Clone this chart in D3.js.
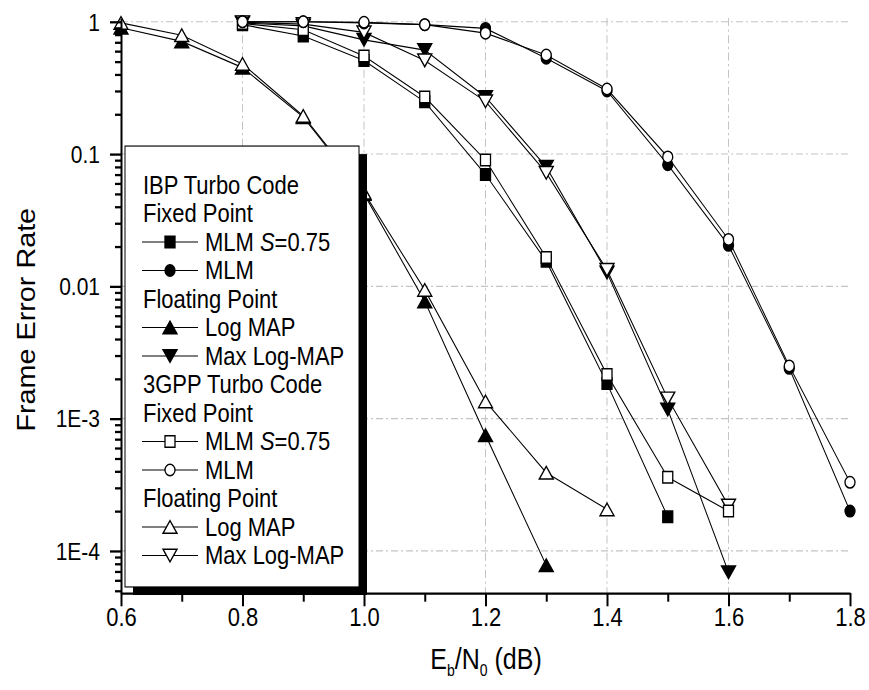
<!DOCTYPE html>
<html>
<head>
<meta charset="utf-8">
<script src="https://cdn.jsdelivr.net/npm/d3@7/dist/d3.min.js"></script>
<style>
body { margin: 0; background: #fff; }
text { font-family: "Liberation Sans", Arial, sans-serif; fill: #000; }
</style>
</head>
<body>
<div id="canvas"></div>
<script>
var width = 869;
var height = 690;
var vbHeight = 600;   // the original picture is stretched a bit vertically

// ---- data (Frame Error Rate vs Eb/N0) ----
const ebno = [0.6, 0.7, 0.8, 0.9, 1.0, 1.1, 1.2, 1.3, 1.4, 1.5, 1.6, 1.7, 1.8];

// IBP turbo code
const ibpMlmS   = [null, null, 0.95, 0.78, 0.51, 0.248, 0.070, 0.0155, 0.00184, 0.000181, null, null, null];
const ibpMlm    = [null, null, 1.0, 1.0, 0.98, 0.95, 0.89, 0.53, 0.30, 0.083, 0.0204, 0.0024, 0.0002];
const ibpLogMap = [0.90, 0.71, 0.45, 0.19, 0.050, 0.0077, 0.00075, 0.000078, null, null, null, null, null];
const ibpMaxLog = [null, null, 0.98, 0.93, 0.73, 0.61, 0.27, 0.080, 0.0127, 0.00117, 0.000069, null, null];

// 3GPP turbo code
const gppMlmS   = [null, null, 0.97, 0.87, 0.55, 0.27, 0.090, 0.0165, 0.00215, 0.00036, 0.0002, null, null];
const gppMlm    = [null, null, 1.0, 1.0, 0.99, 0.95, 0.82, 0.56, 0.31, 0.095, 0.0226, 0.0025, 0.00033];
const gppLogMap = [0.98, 0.79, 0.48, 0.194, 0.051, 0.0094, 0.00135, 0.00039, 0.000206, null, null, null, null];
const gppMaxLog = [null, null, 0.99, 0.96, 0.83, 0.51, 0.25, 0.072, 0.0133, 0.00142, 0.00022, null, null];

const xTicks = [0.6, 0.8, 1.0, 1.2, 1.4, 1.6, 1.8];
const xMinor = [0.7, 0.9, 1.1, 1.3, 1.5, 1.7];
const yTicks = [1, 0.1, 0.01, 1e-3, 1e-4];
const yTickLabels = ["1", "0.1", "0.01", "1E-3", "1E-4"];

const series = [
    { name: "MLM S=0.75", values: ibpMlmS,   shape: "square", filled: true },
    { name: "MLM",        values: ibpMlm,    shape: "circle", filled: true },
    { name: "Log MAP",    values: ibpLogMap, shape: "up",     filled: true },
    { name: "Max Log-MAP",values: ibpMaxLog, shape: "down",   filled: true },
    { name: "MLM S=0.75", values: gppMlmS,   shape: "square", filled: false },
    { name: "MLM",        values: gppMlm,    shape: "circle", filled: false },
    { name: "Log MAP",    values: gppLogMap, shape: "up",     filled: false },
    { name: "Max Log-MAP",values: gppMaxLog, shape: "down",   filled: false }
];

// order the markers are painted in (circles end up on top)
const drawOrder = [2, 6, 3, 7, 0, 4, 1, 5];

// legend rows: headers (no symbol) and series entries
const legendRows = [
    { text: "IBP Turbo Code" },
    { text: "Fixed Point" },
    { s: 0 }, { s: 1 },
    { text: "Floating Point" },
    { s: 2 }, { s: 3 },
    { text: "3GPP Turbo Code" },
    { text: "Fixed Point" },
    { s: 4 }, { s: 5 },
    { text: "Floating Point" },
    { s: 6 }, { s: 7 }
];

// ---- layout ----
var plotLeft = 121, plotRight = 850, plotTop = 15.7, plotBottom = 515.7;

var svg = d3.select("#canvas").append("svg")
    .attr("width", width)
    .attr("height", height)
    .attr("viewBox", "0 0 " + width + " " + vbHeight)
    .attr("preserveAspectRatio", "none")
    .style("background-color", "white");

const xScale = d3.scaleLinear().domain([0.6, 1.8]).range([plotLeft, plotRight]);
const yScale = d3.scaleLog().domain([4.8e-5, 1.066]).range([plotBottom, plotTop]);

// grid
var grid = svg.append("g")
    .attr("stroke", "#c4c4c4")
    .attr("stroke-width", 1)
    .attr("stroke-dasharray", "7,3,2,3");
grid.selectAll(".vg").data(xTicks.filter(d => d > 0.6 && d < 1.8)).enter().append("line")
    .attr("x1", d => xScale(d)).attr("x2", d => xScale(d))
    .attr("y1", plotTop).attr("y2", plotBottom);
grid.selectAll(".hg").data(yTicks).enter().append("line")
    .attr("x1", plotLeft).attr("x2", plotRight - 2)
    .attr("y1", d => yScale(d)).attr("y2", d => yScale(d));

// markers
function markerPath(shape) {
    if (shape === "square") return "M-5,-5H5V5H-5Z";
    if (shape === "circle") return "M5,0A5,5 0 1,1 -5,0A5,5 0 1,1 5,0Z";
    if (shape === "up") return "M0,-5.5L7,5.5L-7,5.5Z";
    return "M0,5.5L7,-5.5L-7,-5.5Z";
}

const line = d3.line()
    .defined(d => d.y != null)
    .x(d => xScale(d.x))
    .y(d => yScale(d.y));

series.forEach(s => {
    s.points = ebno.map((x, i) => ({ x: x, y: s.values[i] }));
});

svg.append("g").selectAll("path")
    .data(series).enter().append("path")
    .attr("d", d => line(d.points))
    .attr("fill", "none")
    .attr("stroke", "#000")
    .attr("stroke-width", 1);

drawOrder.forEach(k => {
    var s = series[k];
    svg.append("g").selectAll("path")
        .data(s.points.filter(p => p.y != null))
        .enter().append("path")
        .attr("transform", p => "translate(" + xScale(p.x) + "," + yScale(p.y) + ")")
        .attr("d", markerPath(s.shape))
        .attr("fill", s.filled ? "#000" : "#fff")
        .attr("stroke", "#000")
        .attr("stroke-width", 1.3);
});

// axes
var xAxis = svg.append("g")
    .attr("transform", "translate(0," + plotBottom + ")")
    .call(d3.axisBottom(xScale).tickValues(xTicks).tickFormat(d3.format(".1f")).tickSize(11.5).tickSizeOuter(0));
svg.append("g")
    .attr("transform", "translate(0," + plotBottom + ")")
    .call(d3.axisBottom(xScale).tickValues(xMinor).tickFormat("").tickSize(7.5).tickSizeOuter(0))
    .select(".domain").remove();
xAxis.selectAll("text")
    .attr("y", 13)
    .attr("dy", "0.71em")
    .style("font-size", "22px")
    .style("font-family", "Liberation Sans, Arial, sans-serif");

var yMinor = [];
[1e-5, 1e-4, 1e-3, 1e-2, 1e-1].forEach(dec => {
    for (let k = 2; k <= 9; k++) {
        let v = dec * k;
        if (v >= 4.8e-5 && v <= 1.066) yMinor.push(v);
    }
});

var yAxis = svg.append("g")
    .attr("transform", "translate(" + plotLeft + ",0)")
    .call(d3.axisLeft(yScale).tickValues(yTicks).tickFormat((d, i) => yTickLabels[i]).tickSize(11).tickSizeOuter(0));
svg.append("g")
    .attr("transform", "translate(" + plotLeft + ",0)")
    .call(d3.axisLeft(yScale).tickValues(yMinor).tickFormat("").tickSize(6).tickSizeOuter(0))
    .select(".domain").remove();
yAxis.selectAll("text")
    .attr("x", -21)
    .attr("dy", "0.34em")
    .style("font-size", "21px")
    .style("font-family", "Liberation Sans, Arial, sans-serif");

svg.selectAll(".domain").attr("stroke-width", 2);
svg.selectAll(".tick line").attr("stroke-width", 2);

// axis titles
svg.append("text")
    .attr("transform", "translate(35," + 278 + ") rotate(-90)")
    .attr("text-anchor", "middle")
    .style("font-size", "25px")
    .text("Frame Error Rate");

var xt = svg.append("text")
    .attr("x", 486)
    .attr("y", 582)
    .attr("text-anchor", "middle")
    .style("font-size", "25px");
xt.append("tspan").text("E");
xt.append("tspan").attr("dy", 6).style("font-size", "14px").text("b");
xt.append("tspan").attr("dy", -6).text("/N");
xt.append("tspan").attr("dy", 6).style("font-size", "14px").text("0");
xt.append("tspan").attr("dy", -6).text(" (dB)");

// legend
var lg = svg.append("g");
lg.append("rect")
    .attr("x", 133).attr("y", 134)
    .attr("width", 234).attr("height", 383.4)
    .attr("fill", "#000");
lg.append("rect")
    .attr("x", 125).attr("y", 127)
    .attr("width", 234).attr("height", 383.4)
    .attr("fill", "#fff")
    .attr("stroke", "#000")
    .attr("stroke-width", 1);

legendRows.forEach((r, i) => {
    var cy = 160.9 + i * 24.78;
    if (r.text) {
        lg.append("text")
            .attr("x", 143).attr("y", cy).attr("dy", "0.35em")
            .style("font-size", "22px")
            .text(r.text);
    } else {
        var s = series[r.s];
        lg.append("line")
            .attr("x1", 142).attr("x2", 198)
            .attr("y1", cy).attr("y2", cy)
            .attr("stroke", "#000").attr("stroke-width", 1);
        lg.append("path")
            .attr("transform", "translate(170," + cy + ")")
            .attr("d", markerPath(s.shape))
            .attr("fill", s.filled ? "#000" : "#fff")
            .attr("stroke", "#000")
            .attr("stroke-width", 1.3);
        var t = lg.append("text")
            .attr("x", 205).attr("y", cy).attr("dy", "0.35em")
            .style("font-size", "22px");
        if (s.name === "MLM S=0.75") {
            t.append("tspan").text("MLM ");
            t.append("tspan").style("font-style", "italic").text("S");
            t.append("tspan").text("=0.75");
        } else {
            t.text(s.name);
        }
    }
});
</script>
</body>
</html>
